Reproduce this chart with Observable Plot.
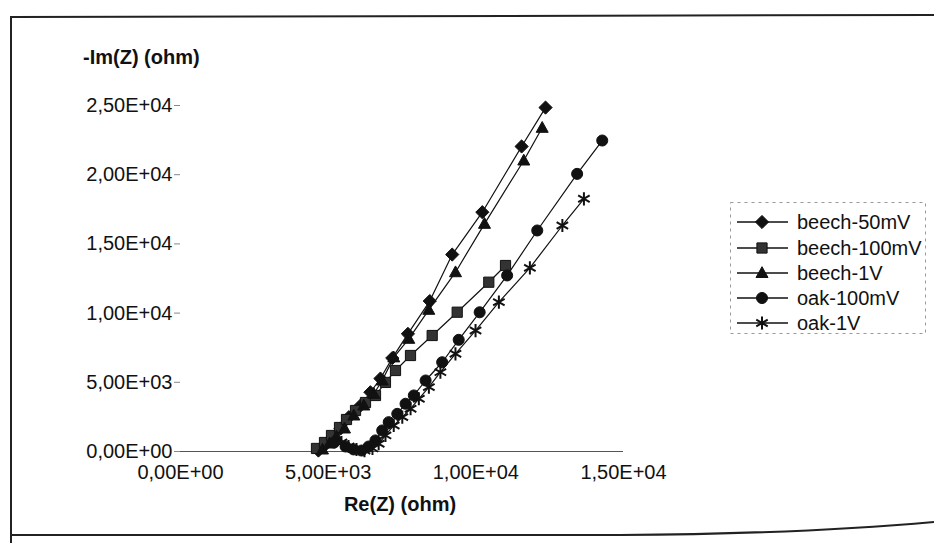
<!DOCTYPE html>
<html><head><meta charset="utf-8">
<script src="https://cdn.jsdelivr.net/npm/d3@7"></script>
<script src="https://cdn.jsdelivr.net/npm/@observablehq/plot@0.6"></script>
<style>
html,body{margin:0;padding:0;background:#fff;overflow:hidden;}
#wrap{position:relative;width:934px;height:543px;overflow:hidden;font-family:"Liberation Sans",Arial,sans-serif;color:#111;}
#chart{position:absolute;left:0;top:0;}
.title{position:absolute;font-weight:bold;font-size:20px;line-height:20px;white-space:nowrap;}
#legend,#frame{position:absolute;left:0;top:0;}
</style>
</head><body>
<div id="wrap">
  <div id="chart"></div>
  <div class="title" id="ytitle" style="left:83px;top:47px;">-Im(Z) (ohm)</div>
  <div class="title" id="xtitle" style="left:400px;top:494px;transform:translateX(-50%);">Re(Z) (ohm)</div>
</div>
<script>
// ---- data (Re(Z), -Im(Z)) in ohm ----
const seriesNames = ["beech-50mV", "beech-100mV", "beech-1V", "oak-100mV", "oak-1V"];
const beech50mV = [[4670,70],[4910,500],[5150,1010],[5420,1660],[5700,2480],[6095,3320],[6430,4280],[6770,5270],[7170,6750],[7700,8500],[8440,10870],[9200,14230],[10220,17290],[11550,22040],[12360,24850]];
const beech100mV = [[4605,220],[4876,650],[5113,1156],[5384,1734],[5621,2312],[5926,2962],[6264,3540],[6603,4046],[6940,4990],[7280,5852],[7788,6936],[8522,8381],[9369,10065],[10439,12232],[11005,13438]];
const beech1V = [[4808,145],[5045,578],[5282,1084],[5553,1662],[5868,2601],[6207,3324],[6545,4169],[6830,5130],[7222,6800],[7730,8143],[8407,10238],[9312,12954],[10293,16451],[11624,21025],[12247,23387]];
const oak100mV = [[5200,650],[5590,360],[5860,150],[6130,70],[6370,360],[6600,800],[6830,1520],[7050,2120],[7340,2720],[7620,3450],[7900,4050],[8300,5130],[8860,6450],[9420,8070],[10130,10060],[11060,12720],[12080,15970],[13430,20060],[14280,22470]];
const oak1V = [[5450,650],[5690,360],[5960,145],[6230,70],[6500,220],[6710,560],[6940,1160],[7220,1880],[7510,2480],[7790,3090],[8070,3810],[8410,4650],[8800,5730],[9310,7060],[9990,8740],[10780,10790],[11830,13270],[12930,16330],[13660,18260]];
const xTicks = [0, 5000, 10000, 15000];
const yTicks = [0, 5000, 10000, 15000, 20000, 25000];

// ---- custom marker shapes ----
const rOf = s => Math.sqrt(s / Math.PI);
const symDiamond = {draw(c, s){const h=rOf(s)*1.1; c.moveTo(0,-h); c.lineTo(h,0); c.lineTo(0,h); c.lineTo(-h,0); c.closePath();}};
const symSquare = {draw(c, s){const h=rOf(s)*0.85; c.moveTo(-h,-h); c.lineTo(h,-h); c.lineTo(h,h); c.lineTo(-h,h); c.closePath();}};
const symTriangle = {draw(c, s){const r=rOf(s); c.moveTo(0,-r*1.05); c.lineTo(r,r*0.75); c.lineTo(-r,r*0.75); c.closePath();}};
const symCircle = {draw(c, s){const r=rOf(s)*0.92; c.moveTo(r,0); c.arc(0,0,r,0,2*Math.PI); c.closePath();}};
const symStar = {draw(c, s){const r=rOf(s)*1.1; c.moveTo(0,-r); c.lineTo(0,r); const a=r*0.87, b=r*0.5; c.moveTo(-a,-b); c.lineTo(a,b); c.moveTo(-a,b); c.lineTo(a,-b);}};

const styles = {
  "beech-50mV": {sym: symDiamond, fill: "#111", stroke: "#111", sw: 1},
  "beech-100mV": {sym: symSquare, fill: "#333", stroke: "#111", sw: 1},
  "beech-1V": {sym: symTriangle, fill: "#111", stroke: "#111", sw: 1},
  "oak-100mV": {sym: symCircle, fill: "#111", stroke: "#111", sw: 1},
  "oak-1V": {sym: symStar, fill: "none", stroke: "#111", sw: 2}
};
const arrays = {"beech-50mV": beech50mV, "beech-100mV": beech100mV, "beech-1V": beech1V, "oak-100mV": oak100mV, "oak-1V": oak1V};
const data = seriesNames.flatMap(name => arrays[name].map(([x, y]) => ({series: name, x, y})));

const fmt = d => {
  const [m, e] = d.toExponential(2).split("e");
  const sign = e[0];
  const digits = e.slice(1).padStart(2, "0");
  return m.replace(".", ",") + "E" + sign + digits;
};

const chart = Plot.plot({
  width: 934, height: 543,
  marginLeft: 180, marginRight: 311, marginTop: 105, marginBottom: 92,
  x: {domain: [0, 15000], label: null},
  y: {domain: [0, 25000], label: null},
  style: {fontFamily: "'Liberation Sans', Arial, sans-serif", fontSize: "20px", background: "transparent", color: "#111", overflow: "visible"},
  marks: [
    Plot.ruleY([0], {stroke: "#555", strokeWidth: 1.2}),
    Plot.axisY(yTicks, {tickSize: 6, tickPadding: 2, tickFormat: fmt, fontSize: 20, stroke: "#888", label: null}),
    Plot.axisX(xTicks, {tickSize: 0, tickPadding: 13, tickFormat: fmt, fontSize: 20, label: null}),
    Plot.line(data, {x: "x", y: "y", z: "series", stroke: "#111", strokeWidth: 1.2}),
    ...seriesNames.map(name => Plot.dot(data.filter(d => d.series === name), {
      x: "x", y: "y", r: 6, symbol: styles[name].sym, fill: styles[name].fill,
      stroke: styles[name].stroke, strokeWidth: styles[name].sw
    }))
  ]
});
document.getElementById("chart").appendChild(chart);

// ---- chart-area frame (scanned page border) ----
const frame = d3.select("#wrap").insert("svg", ":first-child").attr("id", "frame").attr("width", 934).attr("height", 543);
frame.append("path").attr("d", "M11,543 L11,17 L934,15").attr("fill", "none").attr("stroke", "#222").attr("stroke-width", 2);
frame.append("path").attr("d", "M11,535 L620,535 Q800,534 934,522").attr("fill", "none").attr("stroke", "#222").attr("stroke-width", 2.2);

// ---- legend ----
const leg = d3.select("#wrap").append("svg").attr("id", "legend").attr("width", 934).attr("height", 543);
leg.append("rect").attr("x", 730.5).attr("y", 202.5).attr("width", 195).attr("height", 131)
  .attr("fill", "white").attr("stroke", "#999").attr("stroke-dasharray", "3,4");
const legY = [222, 248, 273, 298, 323];
seriesNames.forEach((name, i) => {
  const g = leg.append("g").attr("transform", `translate(0,${legY[i]})`);
  g.append("line").attr("x1", 737).attr("x2", 788).attr("stroke", "#111").attr("stroke-width", 1.3);
  g.append("path").attr("transform", "translate(762,0)")
    .attr("d", d3.symbol(styles[name].sym, Math.PI * 36)())
    .attr("fill", styles[name].fill).attr("stroke", styles[name].stroke).attr("stroke-width", styles[name].sw);
  g.append("text").attr("x", 797).attr("dy", "0.35em").attr("font-size", 20)
    .attr("font-family", "'Liberation Sans', Arial, sans-serif").attr("fill", "#111").text(name);
});
</script>
</body></html>
